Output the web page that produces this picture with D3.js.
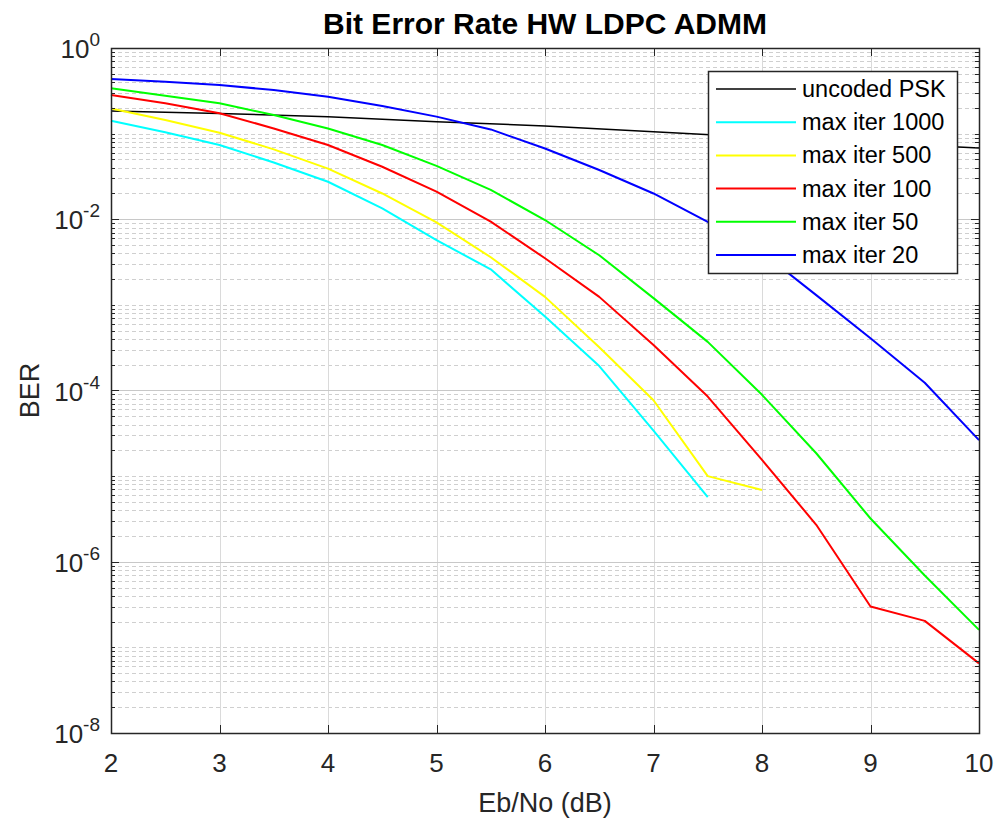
<!DOCTYPE html>
<html>
<head>
<meta charset="utf-8">
<script src="https://cdn.jsdelivr.net/npm/d3@7"></script>
<style>
  html, body { margin: 0; padding: 0; background: #fff; }
  svg { display: block; font-family: "Liberation Sans", Arial, Helvetica, sans-serif; }
</style>
</head>
<body>
<svg id="chart" width="999" height="821"></svg>
<script>
// ---- data ----
const ebno = [2, 2.5, 3, 3.5, 4, 4.5, 5, 5.5, 6, 6.5, 7, 7.5, 8, 8.5, 9, 9.5, 10];
const ebnoPsk = [2, 3, 4, 5, 6, 7, 8, 9, 10];
const berUncoded = [0.184, 0.172, 0.157, 0.138, 0.123, 0.105, 0.090, 0.078, 0.068];
const berIter1000 = [0.141, 0.1035, 0.0736, 0.046, 0.0274, 0.0134, 0.0057, 0.0026, 7.3e-4, 1.93e-4, 3.4e-5, 5.7e-6];
const berIter500 = [0.197, 0.144, 0.1026, 0.0655, 0.039, 0.020, 0.0092, 0.0036, 0.00124, 3.2e-4, 7.7e-5, 1.0e-5, 6.9e-6];
const berIter100 = [0.283, 0.226, 0.173, 0.115, 0.0736, 0.041, 0.021, 0.0094, 0.0035, 0.00124, 3.4e-4, 8.5e-5, 1.55e-5, 2.7e-6, 3.0e-7, 2.04e-7, 6.5e-8];
const berIter50 = [0.338, 0.277, 0.226, 0.165, 0.115, 0.0736, 0.042, 0.022, 0.0098, 0.0038, 0.0012, 3.7e-4, 8.9e-5, 1.85e-5, 3.2e-6, 6.9e-7, 1.6e-7];
const berIter20 = [0.434, 0.404, 0.37, 0.323, 0.27, 0.21, 0.158, 0.112, 0.067, 0.0376, 0.020, 0.0093, 0.0041, 0.0013, 4.07e-4, 1.23e-4, 2.63e-5];
const seriesNames = ["uncoded PSK", "max iter 1000", "max iter 500", "max iter 100", "max iter 50", "max iter 20"];
const seriesColors = ["#000000", "#00ffff", "#ffff00", "#ff0000", "#00ff00", "#0000ff"];
const xTicks = [2, 3, 4, 5, 6, 7, 8, 9, 10];
const yTickExps = [0, -2, -4, -6, -8];
const titleText = "Bit Error Rate HW LDPC ADMM";
const xLabel = "Eb/No (dB)";
const yLabel = "BER";

// ---- layout ----
const L = 111, R = 979, T = 48, B = 733;
const svg = d3.select("#chart");
const x = d3.scaleLinear().domain([2, 10]).range([L, R]);
const y = d3.scaleLog().domain([1e-8, 1]).range([B, T]);

// minor grid values
const minorVals = [];
for (let k = -8; k < 0; k++) {
  for (let m = 1; m <= 9; m++) {
    const v = m * Math.pow(10, k);
    if (m === 1 && yTickExps.includes(k)) continue;
    minorVals.push(v);
  }
}

const grid = svg.append("g");
grid.selectAll("line.minor").data(minorVals).enter().append("line")
  .attr("x1", L).attr("x2", R)
  .attr("y1", d => Math.round(y(d)) + 0.5).attr("y2", d => Math.round(y(d)) + 0.5)
  .attr("stroke", "#cfcfcf").attr("stroke-width", 1).attr("stroke-dasharray", "4,3");
grid.selectAll("line.vmaj").data(xTicks).enter().append("line")
  .attr("x1", d => Math.round(x(d)) + 0.5).attr("x2", d => Math.round(x(d)) + 0.5)
  .attr("y1", T).attr("y2", B)
  .attr("stroke", "#dadada").attr("stroke-width", 1);
grid.selectAll("line.hmaj").data(yTickExps).enter().append("line")
  .attr("x1", L).attr("x2", R)
  .attr("y1", d => Math.round(y(Math.pow(10, d))) + 0.5).attr("y2", d => Math.round(y(Math.pow(10, d))) + 0.5)
  .attr("stroke", "#c8c8c8").attr("stroke-width", 1);

// ---- series ----
const line = d3.line().x(d => x(d[0])).y(d => y(d[1]));
const series = [
  [ebnoPsk, berUncoded],
  [ebno, berIter1000],
  [ebno, berIter500],
  [ebno, berIter100],
  [ebno, berIter50],
  [ebno, berIter20]
];
const plot = svg.append("g");
series.forEach((s, i) => {
  const pts = s[1].map((v, j) => [s[0][j], v]);
  plot.append("path").datum(pts)
    .attr("d", line)
    .attr("fill", "none")
    .attr("stroke", seriesColors[i])
    .attr("stroke-width", i === 0 ? 1.5 : 2)
    .attr("stroke-linejoin", "round");
});

// ---- axes box & ticks ----
const axisColor = "#262626";
const ax = svg.append("g");
ax.append("rect").attr("x", L + 0.5).attr("y", T + 0.5).attr("width", R - L).attr("height", B - T)
  .attr("fill", "none").attr("stroke", axisColor).attr("stroke-width", 1.5);
xTicks.forEach(t => {
  const px = Math.round(x(t)) + 0.5;
  ax.append("line").attr("x1", px).attr("x2", px).attr("y1", B).attr("y2", B - 8).attr("stroke", axisColor);
  ax.append("line").attr("x1", px).attr("x2", px).attr("y1", T).attr("y2", T + 8).attr("stroke", axisColor);
});
yTickExps.forEach(e => {
  const py = Math.round(y(Math.pow(10, e))) + 0.5;
  ax.append("line").attr("x1", L).attr("x2", L + 8).attr("y1", py).attr("y2", py).attr("stroke", axisColor);
  ax.append("line").attr("x1", R).attr("x2", R - 8).attr("y1", py).attr("y2", py).attr("stroke", axisColor);
});
minorVals.forEach(v => {
  const py = Math.round(y(v)) + 0.5;
  ax.append("line").attr("x1", L).attr("x2", L + 4).attr("y1", py).attr("y2", py).attr("stroke", axisColor);
  ax.append("line").attr("x1", R).attr("x2", R - 4).attr("y1", py).attr("y2", py).attr("stroke", axisColor);
});

// tick labels
const labColor = "#262626";
svg.append("g").selectAll("text").data(xTicks).enter().append("text")
  .attr("x", d => x(d)).attr("y", 772)
  .attr("text-anchor", "middle").attr("font-size", 26).attr("fill", labColor)
  .text(d => d);
const yl = svg.append("g").selectAll("text").data(yTickExps).enter().append("text")
  .attr("x", 100).attr("y", d => y(Math.pow(10, d)) + 10)
  .attr("text-anchor", "end").attr("font-size", 26).attr("fill", labColor);
yl.append("tspan").text("10");
yl.append("tspan").attr("dy", -12).attr("font-size", 19).text(d => d === 0 ? "0" : "-" + Math.abs(d));

// titles
svg.append("text").attr("x", (L + R) / 2).attr("y", 34).attr("text-anchor", "middle")
  .attr("font-size", 30).attr("font-weight", "bold").attr("fill", "#000").text(titleText);
svg.append("text").attr("x", (L + R) / 2).attr("y", 812).attr("text-anchor", "middle")
  .attr("font-size", 27).attr("fill", labColor).text(xLabel);
svg.append("text").attr("transform", `translate(39,${(T + B) / 2}) rotate(-90)`)
  .attr("text-anchor", "middle").attr("font-size", 27).attr("fill", labColor).text(yLabel);

// ---- legend ----
const lx = 708, ly = 71, lw = 249, lh = 202;
const lg = svg.append("g");
lg.append("rect").attr("x", lx + 0.5).attr("y", ly + 0.5).attr("width", lw).attr("height", lh)
  .attr("fill", "#fff").attr("stroke", axisColor).attr("stroke-width", 1.5);
seriesNames.forEach((name, i) => {
  const ry = ly + 18 + i * 33.2;
  lg.append("line").attr("x1", lx + 8).attr("x2", lx + 88).attr("y1", ry).attr("y2", ry)
    .attr("stroke", seriesColors[i]).attr("stroke-width", i === 0 ? 1.5 : 2);
  lg.append("text").attr("x", lx + 94).attr("y", ry + 8).attr("font-size", 23.5)
    .attr("fill", "#000").text(name);
});
</script>
</body>
</html>
